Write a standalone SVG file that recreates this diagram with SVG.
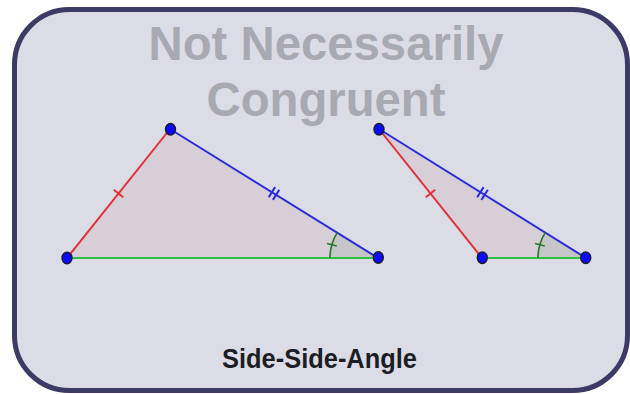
<svg xmlns="http://www.w3.org/2000/svg" width="630" height="394" viewBox="0 0 630 394">
<style>
.title{font-family:"Liberation Sans",Arial,sans-serif;font-weight:bold;font-size:48px;fill:#a9a9b2;text-anchor:middle}
.caption{font-family:"Liberation Sans",Arial,sans-serif;font-weight:bold;font-size:27px;fill:#1d1d24}
.tri{fill:#d8ced7;stroke:none}
.wedge{fill:#c6c6c8;stroke:none}
.red{stroke:#e0303a;stroke-width:2;fill:none}
.blue{stroke:#2a2ad6;stroke-width:2;fill:none}
.green{stroke:#2ec040;stroke-width:2.2;fill:none}
.arc{stroke:#1f7a2c;stroke-width:1.6;fill:none}
.pt{fill:#0a0aff;stroke:#1a1a2a;stroke-width:1.4}
</style>
<rect x="14.5" y="9.5" width="613" height="381" rx="55" ry="55" fill="#dcdce6" stroke="#3b3b66" stroke-width="5"/>
<text class="title" x="326" y="60" textLength="355" lengthAdjust="spacingAndGlyphs">Not Necessarily</text>
<text class="title" x="326" y="116" textLength="239" lengthAdjust="spacingAndGlyphs">Congruent</text>
<g id="triangle1">
<polygon class="tri" points="67,258 170,129 378,258"/>
<path class="wedge" d="M378,258 L330,258 A48,48 0 0,1 337.2,232.7 Z"/>
</g>
<g id="triangle2">
<polygon class="tri" points="379,129 482,258 586,258"/>
<path class="wedge" d="M586,258 L538,258 A48,48 0 0,1 545.2,232.7 Z"/>
</g>
<g id="connectors">
<line class="red" x1="67" y1="258" x2="170" y2="129"/>
<line class="blue" x1="170" y1="129" x2="378" y2="258"/>
<line class="green" x1="67" y1="258" x2="378" y2="258"/>
<line class="red" x1="113.8" y1="189.8" x2="123.2" y2="197.2"/>
<line class="blue" x1="275.1" y1="187.1" x2="268.7" y2="197.3"/>
<line class="blue" x1="279.3" y1="189.7" x2="272.9" y2="199.9"/>
<path class="arc" d="M330,258 A48,48 0 0,1 337.2,232.7"/>
<line class="arc" x1="336.7" y1="246.1" x2="327.1" y2="243.4"/>
<line class="red" x1="379" y1="129" x2="482" y2="258"/>
<line class="blue" x1="379" y1="129" x2="586" y2="258"/>
<line class="green" x1="482" y1="258" x2="586" y2="258"/>
<line class="red" x1="425.8" y1="197.2" x2="435.2" y2="189.8"/>
<line class="blue" x1="483.6" y1="187.1" x2="477.2" y2="197.3"/>
<line class="blue" x1="487.8" y1="189.7" x2="481.4" y2="199.9"/>
<path class="arc" d="M538,258 A48,48 0 0,1 545.2,232.7"/>
<line class="arc" x1="544.7" y1="246.1" x2="535.1" y2="243.4"/>
</g>
<g id="A1"><ellipse class="pt" cx="67" cy="258" rx="5" ry="5.8"/></g>
<g id="B1"><ellipse class="pt" cx="170.5" cy="129.3" rx="5" ry="5.8"/></g>
<g id="C1"><ellipse class="pt" cx="378.3" cy="257.5" rx="5" ry="5.8"/></g>
<g id="A2"><ellipse class="pt" cx="379" cy="129.3" rx="5" ry="5.8"/></g>
<g id="B2"><ellipse class="pt" cx="482.3" cy="257.7" rx="5" ry="5.8"/></g>
<g id="C2"><ellipse class="pt" cx="585.7" cy="257.7" rx="5" ry="5.8"/></g>
<text class="caption" x="222" y="368" textLength="195" lengthAdjust="spacingAndGlyphs">Side-Side-Angle</text>
</svg>
